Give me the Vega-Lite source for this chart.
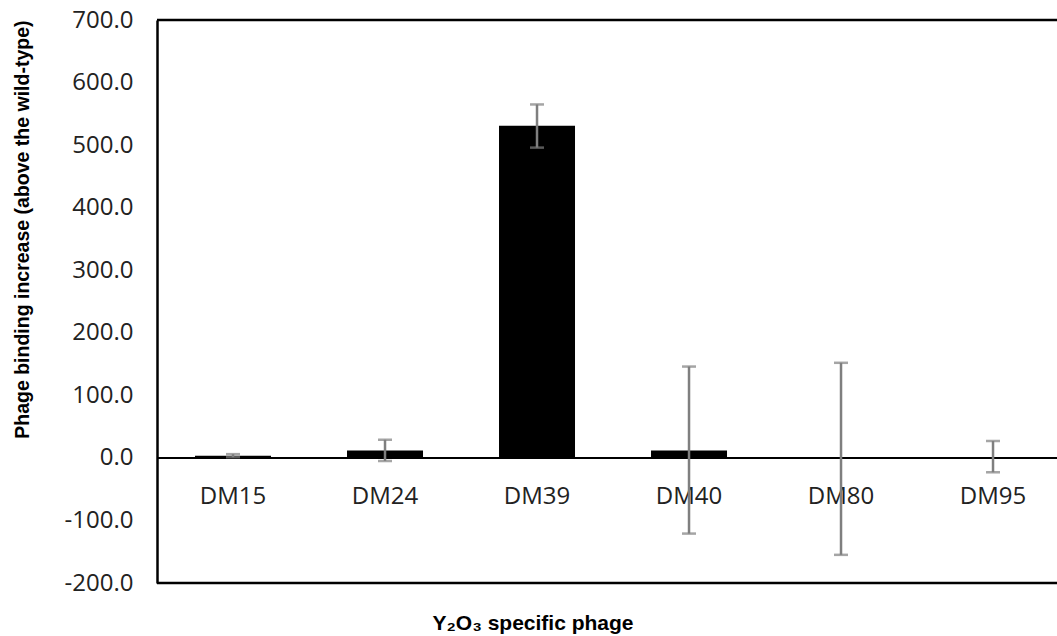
{
  "$schema": "https://vega.github.io/schema/vega-lite/v6.json",
  "autosize": {"type": "none"},
  "padding": {"left": 157, "top": 20, "right": 0, "bottom": 53},
  "width": 900,
  "height": 563,
  "background": "white",
  "config": {"view": {"stroke": null}},
  "title": {"text": "Y₂O₃ specific  phage", "orient": "bottom", "anchor": "middle", "dx": -74, "font": "Liberation Sans", "fontSize": 21, "fontWeight": "bold", "color": "#000000", "offset": 18},
  "data": {"values": [
    {"phage": "DM15", "value": 3.5, "lo": 1, "hi": 6},
    {"phage": "DM24", "value": 12, "lo": -5, "hi": 29},
    {"phage": "DM39", "value": 531, "lo": 496, "hi": 565},
    {"phage": "DM40", "value": 12, "lo": -121, "hi": 146},
    {"phage": "DM80", "value": -1, "lo": -155, "hi": 152},
    {"phage": "DM95", "value": 0.5, "lo": -23, "hi": 27}
  ]},
  "encoding": {
    "x": {"field": "phage", "type": "nominal", "sort": null,
      "scale": {"paddingInner": 0.5, "paddingOuter": 0.2105, "align": 0.594},
      "axis": {"title": null, "orient": "bottom", "offset": -124, "domain": false, "ticks": false, "labelAngle": 0, "labelPadding": 25, "labelFont": "Open Sans", "labelFontSize": 24, "labelColor": "#222222"}}
  },
  "layer": [
    {"mark": {"type": "bar", "color": "#000000"},
     "encoding": {"y": {"field": "value", "type": "quantitative",
       "scale": {"domain": [-200, 700], "nice": false, "zero": false},
       "axis": {"title": "Phage binding increase (above the wild-type)", "titleFont": "Liberation Sans", "titleFontSize": 19.5, "titleFontWeight": "bold", "titleColor": "#000000", "titlePadding": 32, "titleAnchor": "end",
         "values": [-200, -100, 0, 100, 200, 300, 400, 500, 600, 700], "labelExpr": "replace(format(datum.value, '.1f'), '−', '-')", "grid": false, "ticks": false, "domain": true, "domainColor": "#000000", "domainWidth": 2.5,
         "labelFont": "Open Sans", "labelFontSize": 24, "labelColor": "#222222", "labelPadding": 24}}}},
    {"mark": {"type": "rule", "color": "#000000", "strokeWidth": 2}, "data": {"values": [{"v": 0}]},
     "encoding": {"y": {"field": "v", "type": "quantitative"}, "x": null}},
    {"mark": {"type": "rule", "color": "#000000", "strokeWidth": 2.5}, "data": {"values": [{"v": 700}, {"v": -200}]},
     "encoding": {"y": {"field": "v", "type": "quantitative"}, "x": null}},
    {"mark": {"type": "rule", "color": "#7f7f7f", "strokeWidth": 2.5},
     "encoding": {"y": {"field": "lo", "type": "quantitative"}, "y2": {"field": "hi"}}},
    {"mark": {"type": "tick", "color": "#7f7f7f", "thickness": 2.5, "size": 14, "orient": "horizontal"},
     "encoding": {"y": {"field": "lo", "type": "quantitative"}}},
    {"mark": {"type": "tick", "color": "#7f7f7f", "thickness": 2.5, "size": 14, "orient": "horizontal"},
     "encoding": {"y": {"field": "hi", "type": "quantitative"}}}
  ]
}
